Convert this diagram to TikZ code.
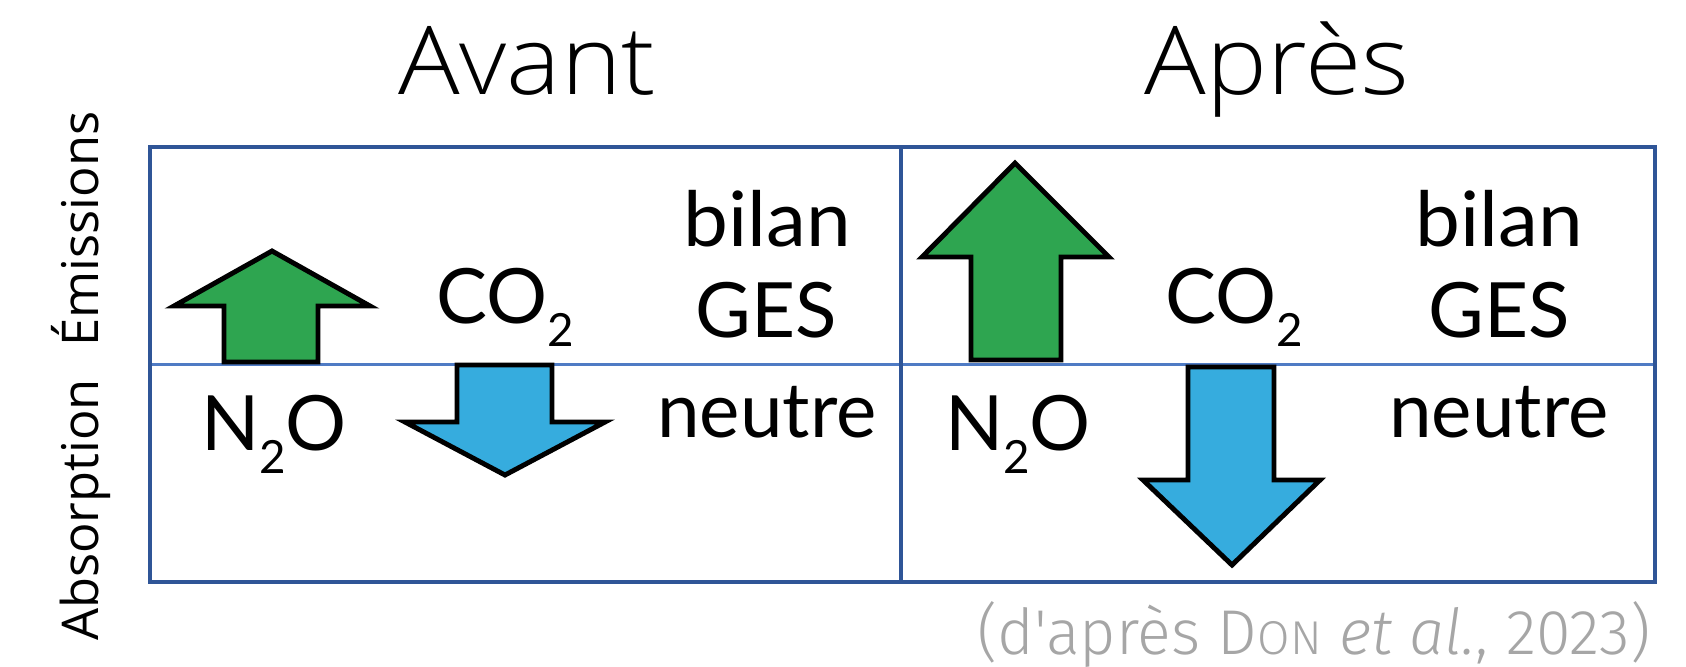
\documentclass[tikz,border=0pt]{standalone}
\usepackage{fontspec}
\setmainfont{Lato}
\newfontfamily\titlefont{Open Sans Light}
\newfontfamily\sidefont{Open Sans}
\newfontfamily\notefont{Fira Sans Light}[ItalicFont={Fira Sans Light Italic}]
\definecolor{frameblue}{HTML}{2F5597}
\definecolor{lineblue}{HTML}{4F7BC4}
\definecolor{upgreen}{HTML}{2EA550}
\definecolor{downblue}{HTML}{36ACDE}
\definecolor{notegrey}{HTML}{A6A6A6}
\newcommand{\chemsub}[1]{\raisebox{-0.23cm}{\fontsize{13}{13}\selectfont #1}}
\tikzset{
  title/.style={inner sep=0pt, anchor=base, font=\titlefont\fontsize{27}{30}\selectfont},
  label/.style={inner sep=0pt, anchor=base, font=\fontsize{21.7}{24}\selectfont},
  side/.style={inner sep=0pt, anchor=base, rotate=90, font=\sidefont\fontsize{14.4}{18}\selectfont},
  up/.style={draw=black, line width=1.4pt, fill=upgreen, line join=miter},
  down/.style={draw=black, line width=1.4pt, fill=downblue, line join=miter}
}
\begin{document}
\begin{tikzpicture}[x=0.01cm,y=-0.01cm]
\useasboundingbox (0,0) rectangle (1686,666);
% titles
\node[title] (avant) at (527,94) {\scalebox{1.08}[1]{Avant}};
\node[title] (apres) at (1277,94) {\scalebox{1.08}[1]{Après}};
\node[side] (emis) at (98,229) {Émissions};
\node[side] (abso) at (98,510) {Absorption};
% grid
\draw[lineblue, line width=0.85pt] (150,364) -- (1655,364);
\draw[frameblue, line width=1.2pt] (901,147) -- (901,582);
\draw[frameblue, line width=1.4pt] (150,147) rectangle (1655,582);
% arrows before
\draw[up] (224,362) -- (224,306) -- (174,306) -- (272,251) -- (370,306) -- (318,306) -- (318,362) -- cycle;
\draw[down] (457,365) -- (457,422) -- (405,422) -- (505,475) -- (605,422) -- (552,422) -- (552,365) -- cycle;
% arrows after
\draw[up] (971,360) -- (971,257) -- (922,257) -- (1015,163) -- (1109,257) -- (1061,257) -- (1061,360) -- cycle;
\draw[down] (1188,367) -- (1188,480) -- (1143,480) -- (1232,565) -- (1320,480) -- (1274,480) -- (1274,367) -- cycle;
% texts before
\node[label] (co2L) at (505,323) {CO\chemsub{2}};
\node[label] (bilanL) at (767,246) {\scalebox{1.05}[1]{bilan}};
\node[label] (gesL) at (766,337) {GES};
\node[label] (neutreL) at (767,437) {neutre};
\node[label] (n2oL) at (274,450) {N\chemsub{2}O};
% texts after
\node[label] (co2R) at (1234,323) {CO\chemsub{2}};
\node[label] (bilanR) at (1499,246) {\scalebox{1.05}[1]{bilan}};
\node[label] (gesR) at (1499,337) {GES};
\node[label] (neutreR) at (1499,437) {neutre};
\node[label] (n2oR) at (1018,450) {N\chemsub{2}O};
% source
\node[inner sep=0pt, anchor=base east, text=notegrey, font=\notefont\fontsize{18}{20}\selectfont] (source) at (1651,654)
  {\scalebox{0.99}[1]{(d'après D{\fontsize{13.5}{15}\selectfont ON} \textit{et al.}, 2023)}};
\end{tikzpicture}
\end{document}
